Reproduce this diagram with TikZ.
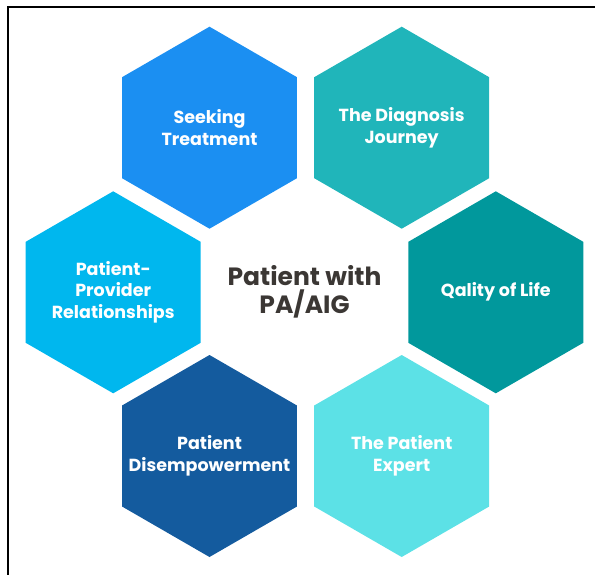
\documentclass[tikz,border=0pt]{standalone}
\usepackage{fontspec}
\setsansfont{Poppins}
\usepackage{xcolor}
\usepackage{tikz}
\usetikzlibrary{shapes.geometric}

\definecolor{seekblue}{HTML}{1B8FF2}
\definecolor{diagteal}{HTML}{20B5BA}
\definecolor{lifeteal}{HTML}{01989C}
\definecolor{expertcyan}{HTML}{5CE1E6}
\definecolor{disempblue}{HTML}{145B9E}
\definecolor{provblue}{HTML}{00B7EE}
\definecolor{hubgray}{HTML}{3B3734}

\begin{document}
\begin{tikzpicture}[
  x=1pt, y=-1pt,
  hexa/.style={regular polygon, regular polygon sides=6,
    shape border rotate=30, minimum size=202pt, inner sep=0pt},
  hexlabel/.style={align=center, text=white, inner sep=0pt,
    font=\sffamily\bfseries\fontsize{17.5}{21.8}\selectfont},
  hub/.style={align=center, text=hubgray,
    font=\sffamily\bfseries\fontsize{25}{27.5}\selectfont}
]
  \useasboundingbox (0,0) rectangle (595,574);
  % frame, left and top only
  \draw[line width=2.2pt] (8,575) -- (8,7.3) -- (596,7.3);

  \node[hub] (patient) at (304.5,292) {Patient with\\PA/AIG};

  \node[hexa, fill=seekblue]   (seek)   at (209.5,127.7) {};
  \node[hexa, fill=diagteal]   (diag)   at (401.7,127.7) {};
  \node[hexa, fill=provblue]   (prov)   at (113.2,292.3) {};
  \node[hexa, fill=lifeteal]   (life)   at (495.8,292.3) {};
  \node[hexa, fill=disempblue] (disemp) at (209.5,456)   {};
  \node[hexa, fill=expertcyan] (expert) at (401.7,456)   {};

  \node[hexlabel] (seek-txt)   at (seek)   {Seeking\\Treatment};
  \node[hexlabel] (diag-txt)   at (diag)   {The Diagnosis\\Journey};
  \node[hexlabel] (prov-txt)   at (prov)   {Patient-\\Provider\\Relationships};
  \node[hexlabel] (life-txt)   at (life)   {Qality of Life};
  \node[hexlabel] (disemp-txt) at (disemp) {Patient\\Disempowerment};
  \node[hexlabel] (expert-txt) at (expert) {The Patient\\Expert};
\end{tikzpicture}
\end{document}
